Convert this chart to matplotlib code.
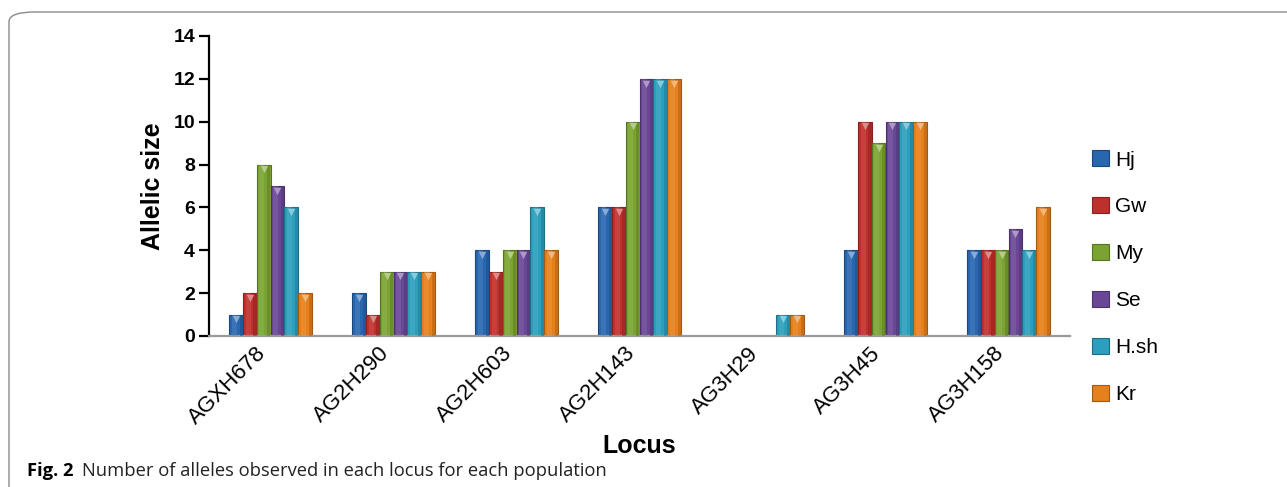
import matplotlib
matplotlib.use("Agg")
import matplotlib.pyplot as plt
import numpy as np
from matplotlib.patches import FancyBboxPatch
from matplotlib.colors import to_rgb
from matplotlib.transforms import ScaledTranslation

loci = ["AGXH678", "AG2H290", "AG2H603", "AG2H143", "AG3H29", "AG3H45", "AG3H158"]
populations = ["Hj", "Gw", "My", "Se", "H.sh", "Kr"]
hj = [1, 2, 4, 6, 0, 4, 4]
gw = [2, 1, 3, 6, 0, 10, 4]
my = [8, 3, 4, 10, 0, 9, 4]
se = [7, 3, 4, 12, 0, 10, 5]
hsh = [6, 3, 6, 12, 1, 10, 4]
kr = [2, 3, 4, 12, 1, 10, 6]
series = [hj, gw, my, se, hsh, kr]
colors = ["#2866b0", "#bf2f2c", "#7ba332", "#6a4696", "#2b9fbd", "#e5801b"]

plt.rcParams['font.family'] = ['Liberation Sans', 'DejaVu Sans']

fig = plt.figure(figsize=(12.87, 4.87), dpi=100)
ax = fig.add_axes([209/1287, 1-336/487, (1070-209)/1287, (336-36)/487])

def shade(c, f):
    r, g, b = to_rgb(c)
    if f < 1:
        return (r*f, g*f, b*f)
    return (r + (1-r)*(f-1), g + (1-g)*(f-1), b + (1-b)*(f-1))

x = np.arange(len(loci))
w = 0.1125
for j, (name, vals, c) in enumerate(zip(populations, series, colors)):
    pos = x + (j - 2.5) * w
    vals = np.array(vals, dtype=float)
    ax.bar(pos, vals, width=w, color=c, edgecolor=shade(c, 0.7), linewidth=0.8,
           label=name, zorder=2)
    ax.bar(pos - w*0.12, vals, width=w*0.35, color=shade(c, 1.25), alpha=0.35,
           linewidth=0, zorder=3)
    ax.bar(pos + w*0.38, vals, width=w*0.22, color=shade(c, 0.75), alpha=0.5,
           linewidth=0, zorder=3)
    m = vals > 0
    ax.scatter(pos[m], vals[m] - 0.22, marker='v', s=28, color=shade(c, 1.45),
               linewidths=0, zorder=4)

ax.set_xlim(-0.5, len(loci) - 0.5)
ax.set_ylim(0, 14)
ax.set_yticks(range(0, 15, 2))
for sp in ['top', 'right']:
    ax.spines[sp].set_visible(False)
ax.spines['left'].set_linewidth(1.6)
ax.spines['left'].set_color('black')
ax.spines['bottom'].set_color('#9a9a9a')
ax.spines['bottom'].set_linewidth(1.6)
ax.tick_params(axis='y', length=7, width=1.6, direction='out', pad=3, labelsize=14)
for t in ax.get_yticklabels():
    t.set_fontweight('bold')
ax.set_xticks(x)
ax.set_xticklabels(loci, rotation=45, ha='right', rotation_mode='anchor', fontsize=16)
ax.tick_params(axis='x', length=0, pad=5)
off = ScaledTranslation(-15/100, 0, fig.dpi_scale_trans)
for t in ax.get_xticklabels():
    t.set_transform(t.get_transform() + off)

ax.set_ylabel("Allelic size", fontsize=18, fontweight='bold', labelpad=6)
ax.set_xlabel("Locus", fontsize=18, fontweight='bold', labelpad=4)

leg = ax.legend(loc='upper left', bbox_to_anchor=(1084/1287, 1-142/487),
                bbox_transform=fig.transFigure, frameon=False, fontsize=15,
                handlelength=0.8, handleheight=0.8, handletextpad=0.3,
                labelspacing=1.33, borderaxespad=0)

cap_y = 1 - 476/487
t1 = fig.text(27/1287, cap_y, "Fig. 2", fontsize=13.2, family='Open Sans',
              fontweight='bold', va='baseline', ha='left')
fig.canvas.draw()
bb = t1.get_window_extent()
fig.text((bb.x1 + 9)/1287, cap_y,
         "Number of alleles observed in each locus for each population",
         fontsize=13.2, family='Open Sans', va='baseline', ha='left', color='#222222')

box = FancyBboxPatch((9/1287, -0.2), 1.2, 1 - 12/487 + 0.2,
                     boxstyle="round,pad=0,rounding_size=0.02",
                     transform=fig.transFigure, fill=False, edgecolor='#8a8a8a',
                     linewidth=1.0, clip_on=False)
fig.patches.append(box)

fig.savefig("out.png", dpi=100)
